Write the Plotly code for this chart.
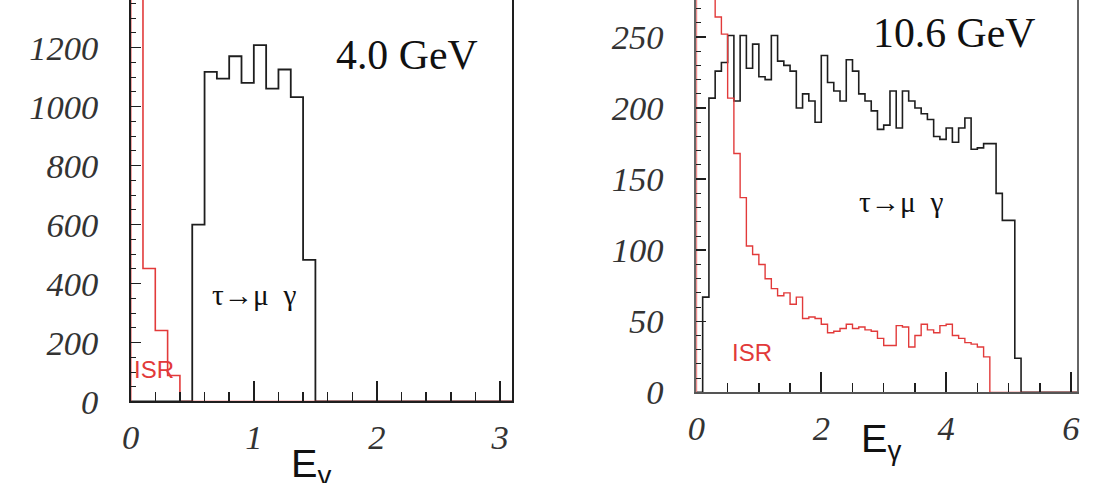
import plotly.graph_objects as go

# ---------------- data ----------------
BIN_W = 0.1
# 4.0 GeV panel (bins of 0.1 from 0 to 3.1)
left_signal = [0, 0, 0, 0, 0, 600, 1118, 1095, 1171, 1081, 1209, 1061, 1126, 1032, 480] + [0] * 16
left_isr = [3000, 451, 241, 88] + [0] * 27

# 10.6 GeV panel (bins of 0.1 from 0 to 6.1)
right_signal = [0, 67, 207, 226, 232, 251, 205, 251, 228, 245,
                222, 220, 251, 233, 230, 226, 200, 210, 205, 190,
                237, 218, 212, 205, 234, 226, 210, 205, 198, 185,
                188, 212, 186, 212, 205, 200, 196, 192, 180, 178,
                186, 176, 186, 193, 171, 172, 175, 175, 140, 121,
                121, 24] + [0] * 9
right_isr = [2000, 500, 285, 264, 252, 207, 168, 137, 103, 97,
             90, 80, 73, 68, 70, 62, 67, 52, 53, 52,
             48, 42, 43, 45, 48, 45, 46, 44, 43, 38,
             33, 33, 47, 46, 32, 40, 48, 44, 42, 47,
             48, 40, 38, 35, 34, 32, 25] + [0] * 14

left_xticks = [0, 1, 2, 3]
left_yticks = [0, 200, 400, 600, 800, 1000, 1200]
right_xticks = [0, 2, 4, 6]
right_yticks = [0, 50, 100, 150, 200, 250]


def step(counts, w=BIN_W):
    xs = [0.0]
    ys = [0.0]
    for i, c in enumerate(counts):
        xs.append(i * w)
        ys.append(c)
    xs.append(len(counts) * w)
    ys.append(counts[-1])
    return xs, ys


BLACK = "#1e1e1e"
RED = "#e23a3a"

fig = go.Figure()
for counts, col, xa, ya, lw in [
    (left_signal, BLACK, "x", "y", 1.8),
    (left_isr, RED, "x", "y", 1.6),
    (right_signal, BLACK, "x2", "y2", 1.6),
    (right_isr, RED, "x2", "y2", 1.4),
]:
    xs, ys = step(counts)
    fig.add_trace(go.Scatter(x=xs, y=ys, mode="lines", line=dict(color=col, width=lw, shape="hv"),
                             xaxis=xa, yaxis=ya, showlegend=False, hoverinfo="skip"))

# the photographed page area is ~505px tall; fill it completely
REF_W, REF_H = 1102, 483
W, H = 1102, 505
K = H / REF_H


def fx(px):
    return px / REF_W


def fy(py):
    return 1 - py / REF_H


def s(v):
    return round(v * K, 1)


def si(v):
    return int(round(v * K))


tickfont = dict(family="Liberation Serif", size=s(33), color="#333333", style="italic")

fig.update_layout(
    width=W, height=H,
    margin=dict(l=0, r=0, t=0, b=0),
    paper_bgcolor="white", plot_bgcolor="white",
    showlegend=False,
    xaxis=dict(domain=[fx(123), fx(509)], range=[0, 3.1], anchor="y",
               tickvals=left_xticks, ticktext=[str(v) for v in left_xticks],
               ticks="inside", ticklen=si(19), tickwidth=2, tickcolor=BLACK,
               minor=dict(dtick=0.2, ticks="inside", ticklen=si(9), tickwidth=1.5, tickcolor=BLACK),
               showline=True, linecolor=BLACK, linewidth=1.5, mirror=False,
               showgrid=False, zeroline=False, tickfont=tickfont, ticklabelstandoff=si(5)),
    yaxis=dict(domain=[fy(399), 1], range=[0, 399 / 0.293], anchor="x",
               tickvals=left_yticks, ticktext=[str(v) for v in left_yticks],
               ticks="inside", ticklen=si(10), tickwidth=1.5, tickcolor=BLACK,
               minor=dict(dtick=50, ticks="inside", ticklen=si(5), tickwidth=1, tickcolor=BLACK),
               showline=True, linecolor=BLACK, linewidth=1.5, mirror=True,
               showgrid=False, zeroline=False, tickfont=tickfont, ticklabelstandoff=24),
    xaxis2=dict(domain=[fx(695), fx(1080)], range=[0, 6.1], anchor="y2",
                tickvals=right_xticks, ticktext=[str(v) for v in right_xticks],
                ticks="inside", ticklen=si(19), tickwidth=2, tickcolor=BLACK,
                minor=dict(dtick=0.5, ticks="inside", ticklen=si(9), tickwidth=1.5, tickcolor=BLACK),
                showline=True, linecolor="#555555", linewidth=1.5, mirror=False,
                showgrid=False, zeroline=False, tickfont=tickfont, ticklabelstandoff=si(5)),
    yaxis2=dict(domain=[fy(390), 1], range=[0, 390 / 1.413], anchor="x2",
                tickvals=right_yticks, ticktext=[str(v) for v in right_yticks],
                ticks="inside", ticklen=si(10), tickwidth=1.5, tickcolor=BLACK,
                minor=dict(dtick=10, ticks="inside", ticklen=si(5), tickwidth=1, tickcolor=BLACK),
                showline=True, linecolor="#666666", linewidth=2, mirror=True,
                showgrid=False, zeroline=False, tickfont=tickfont, ticklabelstandoff=24),
)

serif = "Liberation Serif"
sans = "Liberation Sans"
ann = [
    dict(text="4.0 GeV", x=2.24, y=1174, xref="x", yref="y", font=dict(family=serif, size=s(40), color="#111")),
    dict(text="τ<b>→</b>μ  γ", x=1.0, y=362, xref="x", yref="y", font=dict(family=serif, size=s(28), color="#111")),
    dict(text="ISR", x=0.19, y=109, xref="x", yref="y", font=dict(family=sans, size=s(23), color=RED)),
    dict(text="10.6 GeV", x=4.14, y=253, xref="x2", yref="y2", font=dict(family=serif, size=s(40), color="#111")),
    dict(text="τ<b>→</b>μ  γ", x=3.27, y=134, xref="x2", yref="y2", font=dict(family=serif, size=s(28), color="#111")),
    dict(text="ISR", x=0.89, y=28, xref="x2", yref="y2", font=dict(family=sans, size=s(23), color=RED)),
    dict(text="E<sub>γ</sub>", x=fx(305), y=fy(463), xref="paper", yref="paper",
         font=dict(family=sans, size=s(38), color="#111")),
    dict(text="E<sub>γ</sub>", x=fx(882), y=fy(438), xref="paper", yref="paper",
         font=dict(family=sans, size=s(38), color="#111")),
]
for a in ann:
    a.update(showarrow=False, xanchor="center", yanchor="middle")
    fig.add_annotation(**a)

fig.write_html("out.html", config={"displayModeBar": False, "staticPlot": True},
               post_script="document.body.style.margin='0';document.body.style.overflow='hidden';")
